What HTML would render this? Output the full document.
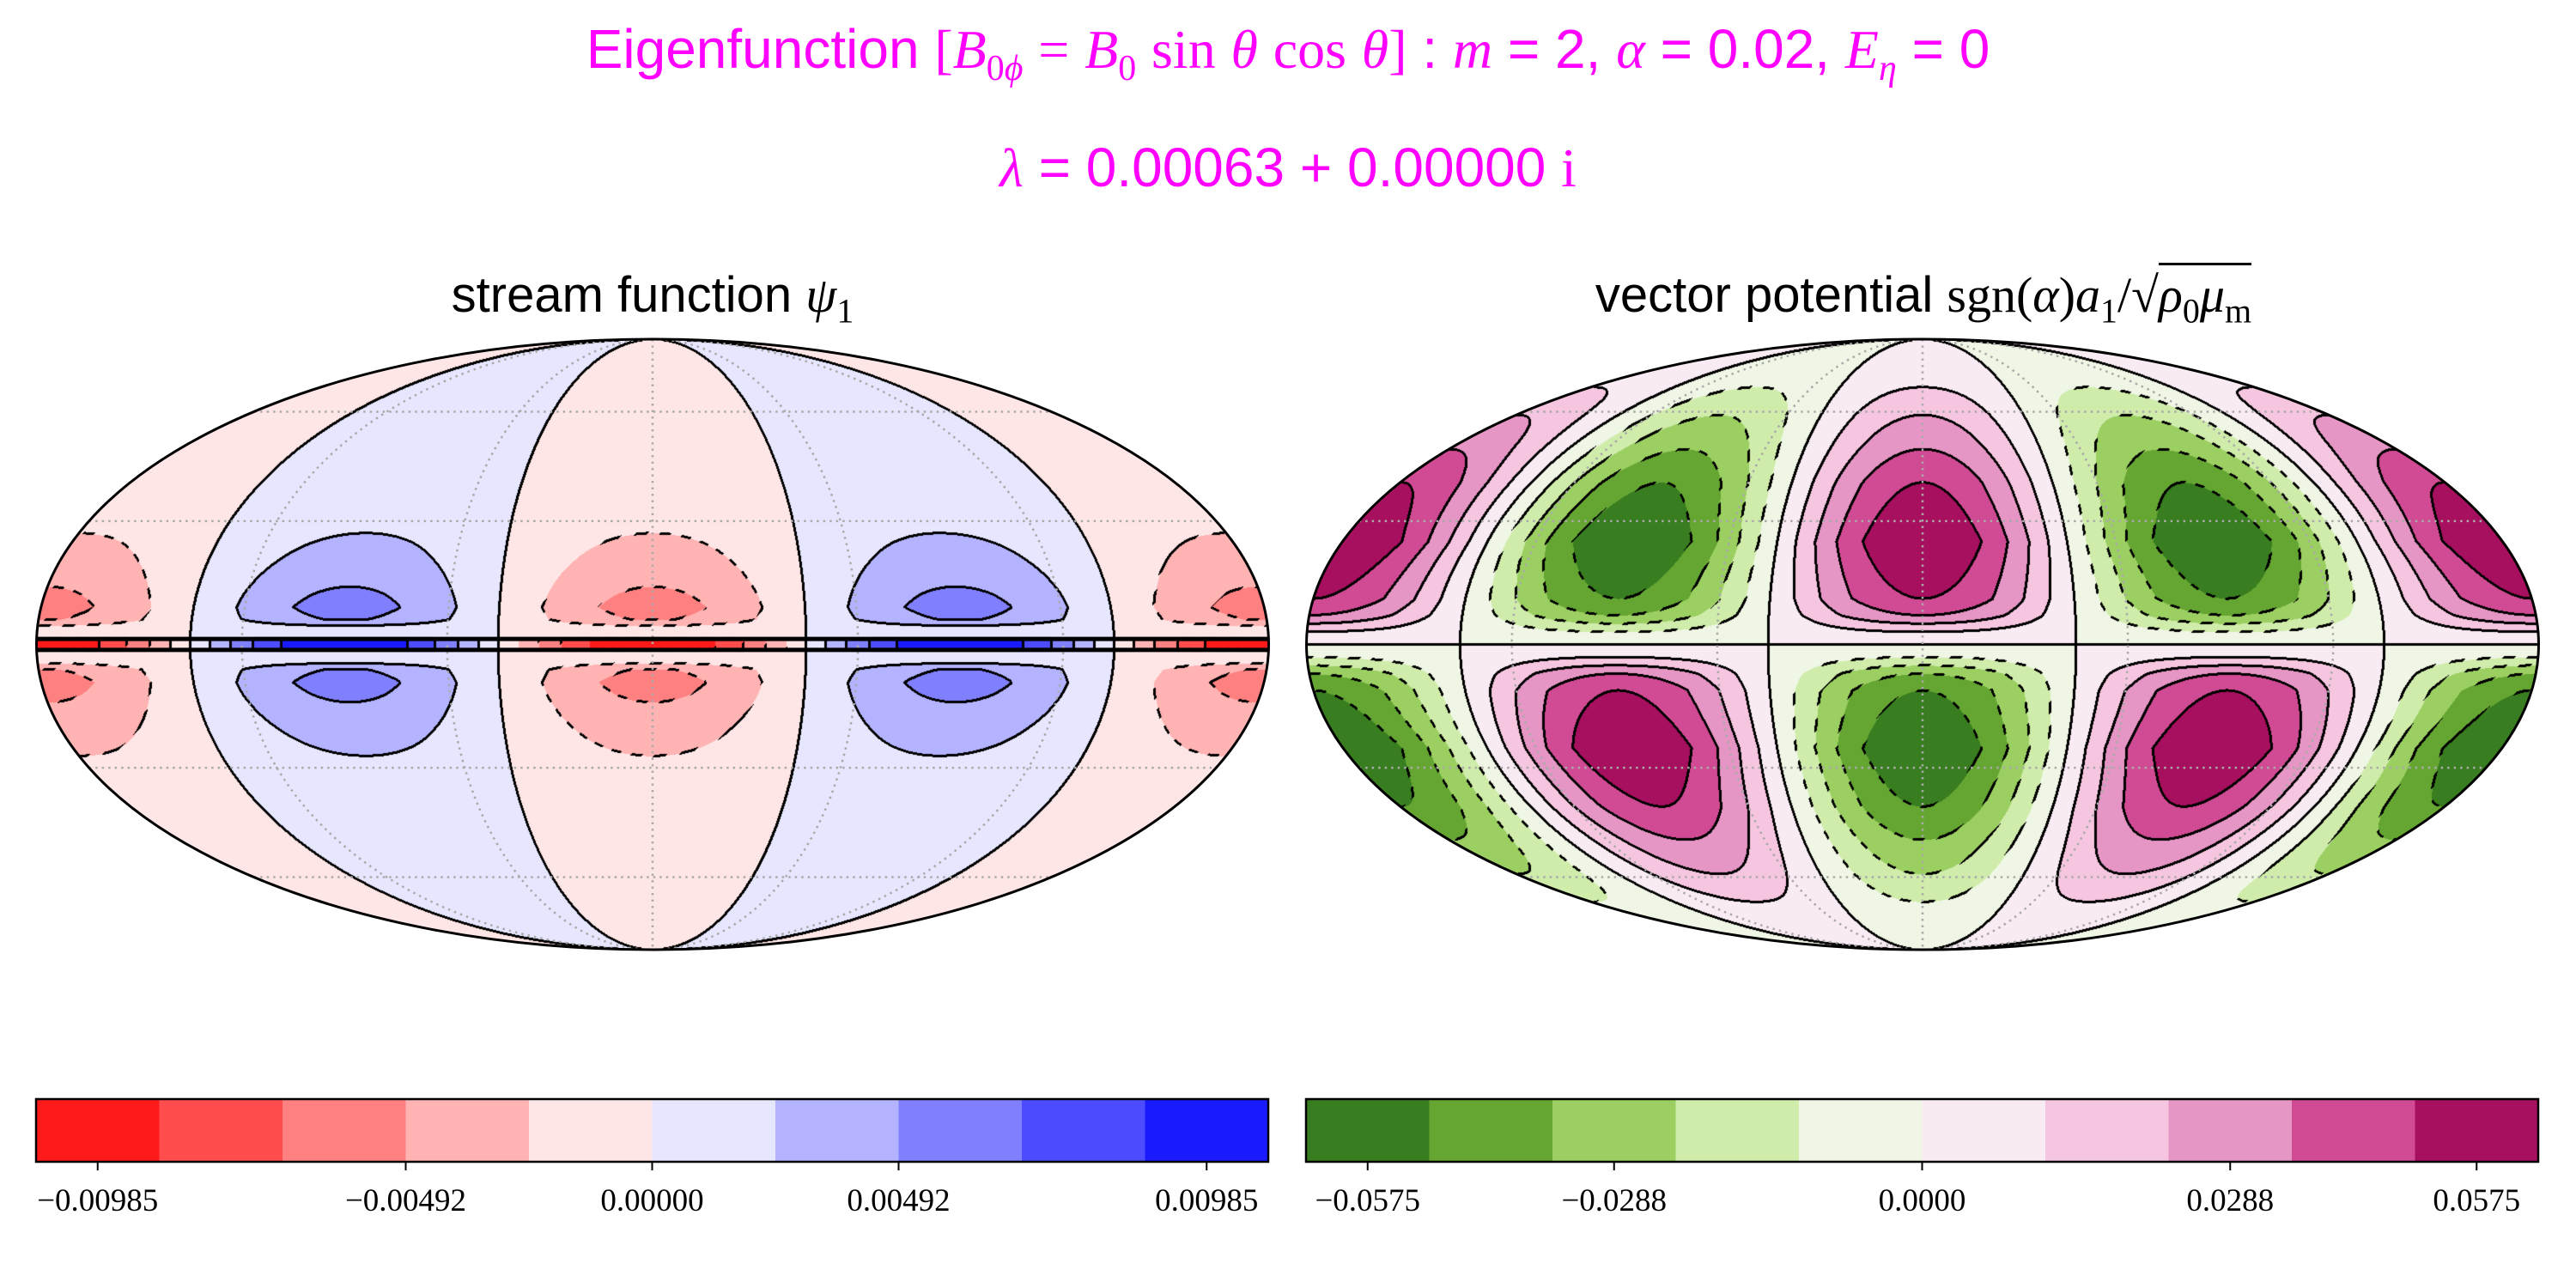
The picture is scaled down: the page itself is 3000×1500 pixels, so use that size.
<!DOCTYPE html>
<html><head><meta charset="utf-8">
<style>
html,body{margin:0;padding:0;background:#fff;}
#root{position:relative;width:3000px;height:1500px;overflow:hidden;background:#fff;font-family:"Liberation Sans",sans-serif;}
.t{position:absolute;white-space:nowrap;text-align:center;}
.m{font-family:"Liberation Serif",serif;font-style:italic;}
.r{font-family:"Liberation Serif",serif;font-style:normal;}
canvas,svg{position:absolute;}
</style></head>
<body>
<div id="root">
  <div class="t" style="left:0;width:3000px;top:20px;font-size:64px;color:#ff00ff;">Eigenfunction <span class="r">[</span><span class="m">B</span><sub class="r" style="font-size:42px">0<i>ϕ</i></sub> <span class="r">=</span> <span class="m">B</span><sub class="r" style="font-size:42px">0</sub> <span class="r">sin</span> <span class="m">θ</span> <span class="r">cos</span> <span class="m">θ</span><span class="r">]</span> : <span class="m">m</span> = 2, <span class="m">α</span> = 0.02, <span class="m">E</span><sub class="m" style="font-size:42px">η</sub> = 0</div>
  <div class="t" style="left:0;width:3000px;top:158px;font-size:64px;color:#ff00ff;"><span class="m">λ</span> = 0.00063 + 0.00000 <span class="r">i</span></div>
  <div class="t" style="left:260px;width:1000px;top:310px;font-size:58px;color:#000;">stream function <span class="m">ψ</span><sub class="r" style="font-size:40px">1</sub></div>
  <div class="t" style="left:1740px;width:1000px;top:310px;font-size:58px;color:#000;">vector potential <span class="r">sgn(</span><span class="m">α</span><span class="r">)</span><span class="m">a</span><sub class="r" style="font-size:40px">1</sub><span class="r">/√</span><span class="r" style="border-top:3px solid #000;padding-top:2px;"><span class="m">ρ</span><sub style="font-size:40px">0</sub><span class="m">μ</span><sub style="font-size:40px">m</sub></span></div>

  <canvas id="cL" width="1436" height="712" style="left:42px;top:395px;"></canvas>
  <canvas id="cR" width="1436" height="712" style="left:1521px;top:395px;"></canvas>
  <svg id="ov" width="3000" height="1500" style="left:0;top:0;"></svg>
</div>
<script>
// ---- data ----
const levelBounds = [-0.8,-0.6,-0.4,-0.2,0,0.2,0.4,0.6,0.8];
const leftColors = ['#ff1a1a','#ff4d4d','#ff8080','#ffb3b3','#ffe6e6','#e6e6ff','#b3b3ff','#8080ff','#4d4dff','#1a1aff'];
const rightColors = ['#387d1f','#65a633','#9ccf62','#cfecab','#f0f6e5','#f9ebf3','#f6c6e0','#e596c4','#d14b94','#a70f5f'];
const leftTickLabels = ['\u22120.00985','\u22120.00492','0.00000','0.00492','0.00985'];
const rightTickLabels = ['\u22120.0575','\u22120.0288','0.0000','0.0288','0.0575'];
const leftTickCellPos = [0.5,3,5,7,9.5];
const rightTickCellPos = [0.5,2.5,5,7.5,9.5];
const leftLat = [0,1.2,1.4,3,4.5,6,9,12,20,27,40,60,90];
const leftAmp = [1.0,1.0,0.0,0.05,0.2,0.41,0.47,0.43,0.3,0.2,0.08,0.02,0];
const rightLat = [0,1,3,5,7,11,25,40,49,59,68,80,90];
const rightAmp = [0,0.08,0.2,0.4,0.6,0.8,1.0,0.8,0.6,0.4,0.2,0.06,0];
const graticuleLat = [-60,-30,30,60];
const graticuleLon = [-120,-60,0,60,120];

const RX=717.5, RY=355.5, CY=750.5, CXL=760, CXR=2239;
function interp(xs,ys,x){
  if(x<=xs[0])return ys[0];
  for(let i=1;i<xs.length;i++){ if(x<=xs[i]){const t=(x-xs[i-1])/(xs[i]-xs[i-1]);return ys[i-1]+t*(ys[i]-ys[i-1]);} }
  return ys[ys.length-1];
}
function cellIndex(v){let k=0;for(const b of levelBounds){if(v>b)k++;}return k;}
function hex(c){return [parseInt(c.slice(1,3),16),parseInt(c.slice(3,5),16),parseInt(c.slice(5,7),16)];}

function renderMap(canvas, colors, fieldFn){
  const W=canvas.width,H=canvas.height, ctx=canvas.getContext('2d');
  const img=ctx.createImageData(W,H), d=img.data;
  const cx=W/2, cy=H/2;
  const idx=new Int8Array(W*H).fill(-1);
  const cols=colors.map(hex);
  for(let py=0;py<H;py++){
    const v=-(py+0.5-cy)/RY; if(Math.abs(v)>1)continue;
    const th=Math.asin(v);
    const phi=Math.asin((2*th+Math.sin(2*th))/Math.PI)*180/Math.PI;
    const ct=Math.max(Math.cos(th),1e-4);
    for(let px=0;px<W;px++){
      const u=(px+0.5-cx)/RX; if(u*u+v*v>1)continue;
      const lam=Math.PI*u/ct;
      idx[py*W+px]=cellIndex(fieldFn(lam,phi));
    }
  }
  const nb=[[1,0],[-1,0],[0,1],[0,-1],[2,0],[0,2],[1,1],[-1,-1]];
  for(let py=0;py<H;py++)for(let px=0;px<W;px++){
    const i=py*W+px,k=idx[i]; if(k<0)continue;
    let c=cols[k], edge=false, mn=k;
    for(const [dx,dy] of nb){const x2=px+dx,y2=py+dy; if(x2<0||y2<0||x2>=W||y2>=H)continue;
      const k2=idx[y2*W+x2]; if(k2>=0&&k2!==k){edge=true;mn=Math.min(mn,k2,k);} }
    if(edge){ if(mn<=3){ if(Math.floor((px+py)/14)%2===0) c=[0,0,0]; } else c=[0,0,0]; }
    d[i*4]=c[0];d[i*4+1]=c[1];d[i*4+2]=c[2];d[i*4+3]=255;
  }
  ctx.putImageData(img,0,0);
}
renderMap(document.getElementById('cL'),leftColors,(lam,phi)=>-Math.cos(2*lam)*interp(leftLat,leftAmp,Math.abs(phi)));
renderMap(document.getElementById('cR'),rightColors,(lam,phi)=>Math.cos(2*lam)*Math.sign(phi)*interp(rightLat,rightAmp,Math.abs(phi)));

const NS='http://www.w3.org/2000/svg', ov=document.getElementById('ov');
function el(tag,attrs){const e=document.createElementNS(NS,tag);for(const k in attrs)e.setAttribute(k,attrs[k]);ov.appendChild(e);return e;}
function latY(latDeg){
  const p=latDeg*Math.PI/180; let th=p;
  for(let i=0;i<50;i++){const f=2*th+Math.sin(2*th)-Math.PI*Math.sin(p);const df=2+2*Math.cos(2*th);if(Math.abs(df)<1e-9)break;th-=f/df;}
  return {y:-RY*Math.sin(th),w:RX*Math.cos(th)};
}
[['left',CXL],['right',CXR]].forEach(([side,cx])=>{
  graticuleLat.forEach(lat=>{const g=latY(lat);
    const ln=el('line',{x1:cx-g.w,x2:cx+g.w,y1:CY+g.y,y2:CY+g.y,stroke:'#aaaaaa','stroke-width':2.5,'stroke-dasharray':'2.5 5'});
    
    
  });
  graticuleLon.forEach(lon=>{const rx=RX*Math.abs(lon)/180;
    const e=lon===0?el('line',{x1:cx,x2:cx,y1:CY-RY,y2:CY+RY}):el('path',{d:`M${cx} ${CY-RY} A${rx} ${RY} 0 0 ${lon>0?1:0} ${cx} ${CY+RY}`,fill:'none'});
    e.setAttribute('stroke','#aaaaaa');e.setAttribute('stroke-width',2.5);e.setAttribute('stroke-dasharray','2.5 5');
    
    
  });
  const o=el('ellipse',{cx:cx,cy:CY,rx:RX,ry:RY,fill:'none',stroke:'#000','stroke-width':3});
  
  
});
[-1.3,1.3].forEach(lat=>{const g=latY(lat);
  const s=el('line',{x1:CXL-g.w,x2:CXL+g.w,y1:CY+g.y,y2:CY+g.y,stroke:'#000','stroke-width':5});
  
  
});
function colorbar(side,x0,colors,labels,pos){
  const W=1435,y0=1280,H=73,cw=W/colors.length;
  colors.forEach((c,i)=>{const r=el('rect',{x:x0+i*cw,y:y0,width:cw+0.5,height:H,fill:c});
    
    });
  const b=el('rect',{x:x0,y:y0,width:W,height:H,fill:'none',stroke:'#000','stroke-width':2.5});
  
  
  pos.forEach((p,i)=>{const x=x0+p*cw;
    const t=el('line',{x1:x,x2:x,y1:y0+H,y2:y0+H+10,stroke:'#000','stroke-width':2});
    
    
    const tx=el('text',{x:x,y:y0+H+57,'text-anchor':'middle','font-family':'Liberation Serif, serif','font-size':37,fill:'#000'});
    tx.textContent=labels[i];
    
    
  });
}
colorbar('left',42,leftColors,leftTickLabels,leftTickCellPos);
colorbar('right',1521,rightColors,rightTickLabels,rightTickCellPos);
</script>
</body></html>
